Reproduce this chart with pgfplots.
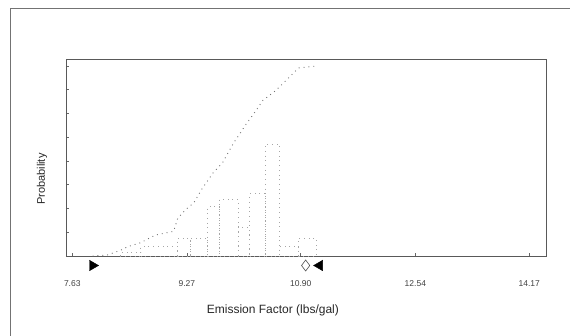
\documentclass[border=0pt]{standalone}
\usepackage{fontspec}
\setmainfont{Liberation Sans}
\usepackage{pgfplots}
\pgfplotsset{compat=1.18}
\begin{document}
\begin{tikzpicture}[x=1pt,y=1pt]
\path[use as bounding box] (-66,-80) rectangle (504,256);
\begin{axis}[
  at={(0,0)}, anchor=south west,
  scale only axis, width=480pt, height=197pt,
  xmin=7.54, xmax=14.41, ymin=0, ymax=1.037,
  clip=false,
  axis line style={draw=black!65, line width=0.8pt},
  xtick={7.63,9.27,10.90,12.54,14.17},
  xticklabels={7.63,9.27,10.90,12.54,14.17},
  ytick={0,0.125,...,1.0},
  yticklabels={},
  xtick pos=bottom, ytick pos=left,
  major tick length=3pt,
  tick style={draw=black!60, line width=0.6pt},
  xticklabel style={font=\fontsize{8.5}{10}\selectfont, text=black!75, yshift=-21pt},
  /pgf/number format/assume math mode=true,
  xlabel={Emission Factor (lbs/gal)},
  xlabel style={font=\fontsize{12}{14}\selectfont, text=black!85, at={(axis description cs:0.431,-0.274)}, anchor=center},
  ylabel={Probability},
  ylabel style={font=\fontsize{11}{13}\selectfont, text=black!85, at={(axis description cs:-0.05,0.39)}, anchor=center, rotate=0},
]
% histogram (dotted bars)
\addplot[ybar interval, draw=black!35, loosely dotted, line width=0.7pt, fill=none] coordinates {
 (8.32,0.02) (8.61,0.05) (9.14,0.095) (9.32,0.095) (9.57,0.26) (9.74,0.30)
 (10.00,0.15) (10.17,0.33) (10.40,0.59) (10.59,0.05) (10.87,0.095) (11.12,0.095)
};
% cumulative curve
\addplot[draw=black!55, loosely dotted, line width=0.9pt] coordinates {
 (7.92,0) (8.13,0.005) (8.32,0.03) (8.43,0.05) (8.61,0.07) (8.71,0.09)
 (8.82,0.11) (9.08,0.13) (9.14,0.20) (9.27,0.25) (9.37,0.28) (9.48,0.35)
 (9.65,0.44) (9.78,0.49) (9.93,0.59) (10.04,0.65) (10.11,0.69) (10.23,0.75)
 (10.36,0.82) (10.54,0.87) (10.87,0.99) (11.12,1.0)
};
% markers below axis
\addplot[only marks, mark=triangle*, mark size=6pt, mark options={rotate=-90, fill=black, draw=black}] coordinates {(7.92,-0.05)};
\addplot[only marks, mark=triangle*, mark size=6pt, mark options={rotate=90, fill=black, draw=black}] coordinates {(11.17,-0.05)};
\addplot[only marks, mark=diamond, mark size=5.5pt, mark options={draw=black!70, fill=white, line width=0.6pt}] coordinates {(10.97,-0.05)};
% outer frame
\draw[black!55, line width=0.7pt] (rel axis cs:-0.1167,-0.41) -- (rel axis cs:-0.1167,1.259) -- (rel axis cs:1.05,1.259);
\end{axis}
\end{tikzpicture}
\end{document}
